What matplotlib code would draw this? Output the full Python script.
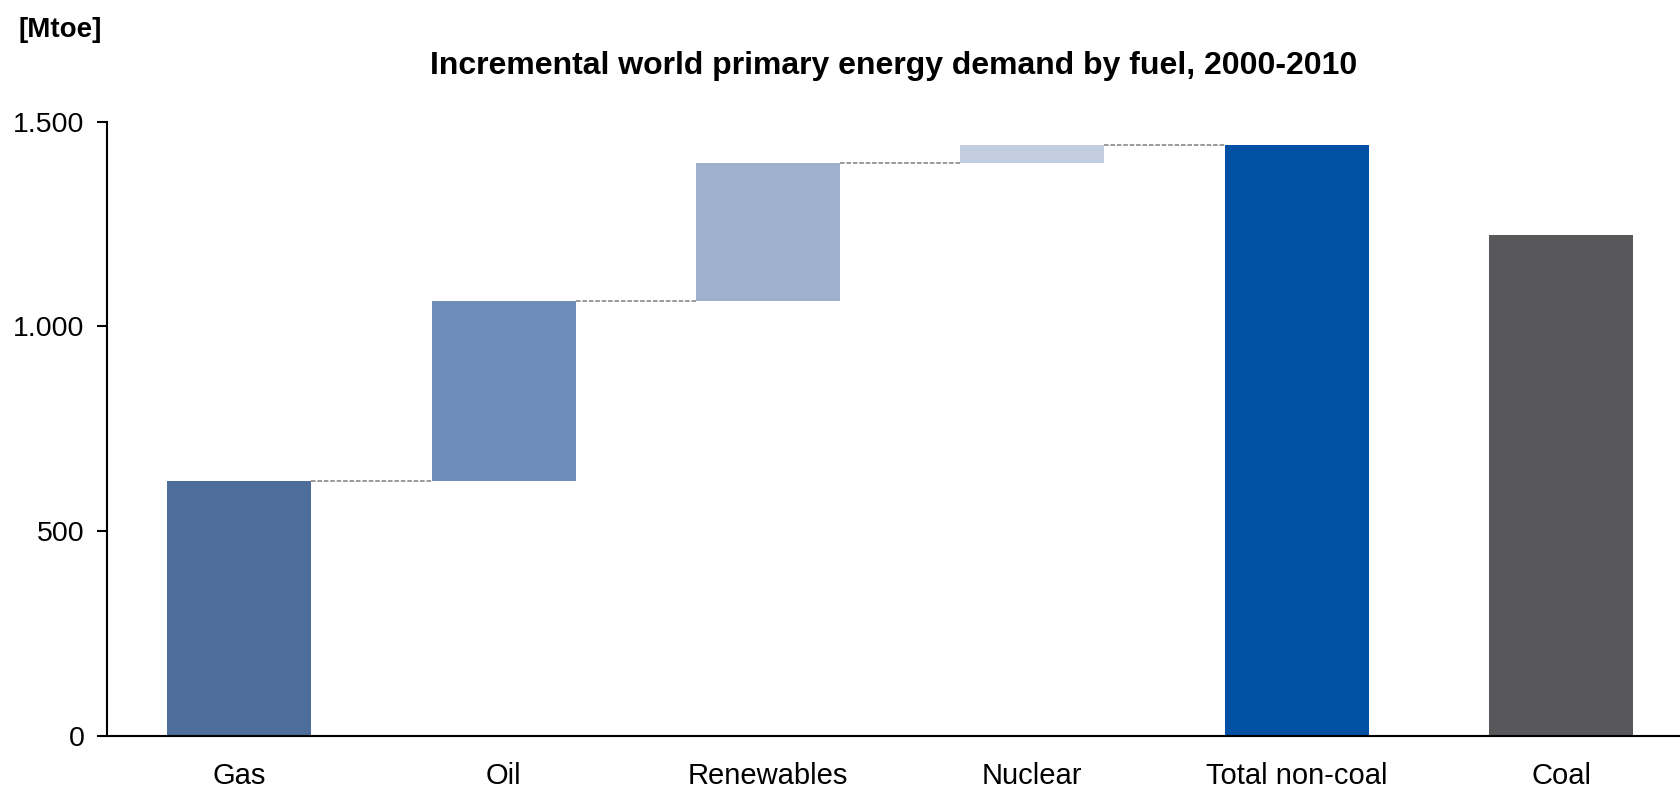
import matplotlib
matplotlib.use("Agg")
import matplotlib.pyplot as plt
from matplotlib.ticker import FuncFormatter, FixedLocator
import numpy as np

plt.rcParams['font.family'] = ['Liberation Sans', 'DejaVu Sans']

categories = ["Gas", "Oil", "Renewables", "Nuclear", "Total non-coal", "Coal"]
increments = [622, 440, 337, 43]          # waterfall steps (Mtoe)
total_non_coal = 1442
coal = 1223
colors = ["#4D6D9B", "#6F8DB9", "#9EB0CE", "#C3CEE1", "#0050A4", "#58585A"]
yticks = [0, 500, 1000, 1500]
title = "Incremental world primary energy demand by fuel, 2000-2010"
unit_label = "[Mtoe]"

fig = plt.figure(figsize=(16.8, 7.88), dpi=100)
ax = fig.add_axes([107/1680, 1 - 736/788, 1 - 107/1680, (736 - 121.5)/788])

x = np.arange(len(categories))
width = 0.545

bottoms = np.concatenate([[0], np.cumsum(increments)[:-1]])
heights = list(increments) + [total_non_coal, coal]
bots = list(bottoms) + [0, 0]

ax.bar(x, heights, width=width, bottom=bots, color=colors, edgecolor="none", zorder=2)

# connectors
tops = np.cumsum(increments)
for i, t in enumerate(tops):
    ax.plot([x[i] + width/2, x[i+1] - width/2], [t, t], color="#7F7F7F",
            lw=1.1, linestyle=(0, (3, 1.2)), zorder=3)

ax.set_xlim(-0.5, 5.45)
ax.set_ylim(0, 1500)
ax.yaxis.set_major_locator(FixedLocator(yticks))
ax.yaxis.set_major_formatter(FuncFormatter(lambda v, p: f"{int(v):,}".replace(",", ".")))
ax.set_xticks(x)
ax.set_xticklabels(categories)

for s in ["top", "right"]:
    ax.spines[s].set_visible(False)
for s in ["left", "bottom"]:
    ax.spines[s].set_linewidth(1.5)
    ax.spines[s].set_color("black")

ax.tick_params(axis="y", length=7.2, width=1.5, direction="out", pad=9, labelsize=20.5)
ax.tick_params(axis="x", length=0, pad=19, labelsize=21)

ax.set_title(title, fontsize=23, fontweight="bold", pad=34)
fig.text(19/1680, 1 - 30/788, unit_label, fontsize=20, fontweight="bold", ha="left", va="center")

fig.savefig("out.png", dpi=100)
